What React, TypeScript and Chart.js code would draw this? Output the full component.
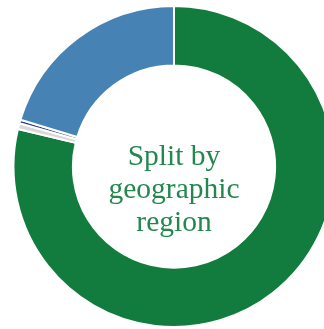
import React, { useEffect, useRef } from "react";
import { Chart, registerables } from "chart.js";

Chart.register(...registerables);

const regions = ["Region A", "Region B", "Region C", "Region D"];
const shares = [78.75, 0.6, 0.35, 20.3];
const colors = ["#117c3e", "#d9d9d9", "#2e3d7c", "#4682b4"];
const centerLines = ["Split by", "geographic", "region"];

export default function App() {
  const ref = useRef<HTMLCanvasElement | null>(null);
  useEffect(() => {
    if (!ref.current) return;
    const chart = new Chart(ref.current, {
      type: "doughnut",
      data: {
        labels: regions,
        datasets: [
          {
            data: shares,
            backgroundColor: colors,
            borderColor: "#ffffff",
            borderWidth: 2,
            hoverOffset: 0,
          },
        ],
      },
      options: {
        responsive: false,
        animation: false,
        cutout: "63%",
        layout: { padding: 0 },
        plugins: { legend: { display: false }, tooltip: { enabled: false } },
      },
    });
    return () => chart.destroy();
  }, []);
  return (
    <div style={{ position: "absolute", left: 0, top: 0, width: 324, height: 329, overflow: "hidden" }}>
      <canvas
        ref={ref}
        width={348}
        height={323}
        style={{ position: "absolute", left: 0, top: 5, width: 348, height: 323 }}
      />
      <div
        style={{
          position: "absolute",
          left: 74,
          top: 166 - 50 + 22,
          width: 200,
          height: 100,
          display: "flex",
          flexDirection: "column",
          justifyContent: "center",
          alignItems: "center",
          fontFamily: "'Liberation Serif', serif",
          fontSize: 29.5,
          lineHeight: "33px",
          color: "#23874e",
          textAlign: "center",
        }}
      >
        {centerLines.map((l) => (
          <div key={l}>{l}</div>
        ))}
      </div>
    </div>
  );
}
